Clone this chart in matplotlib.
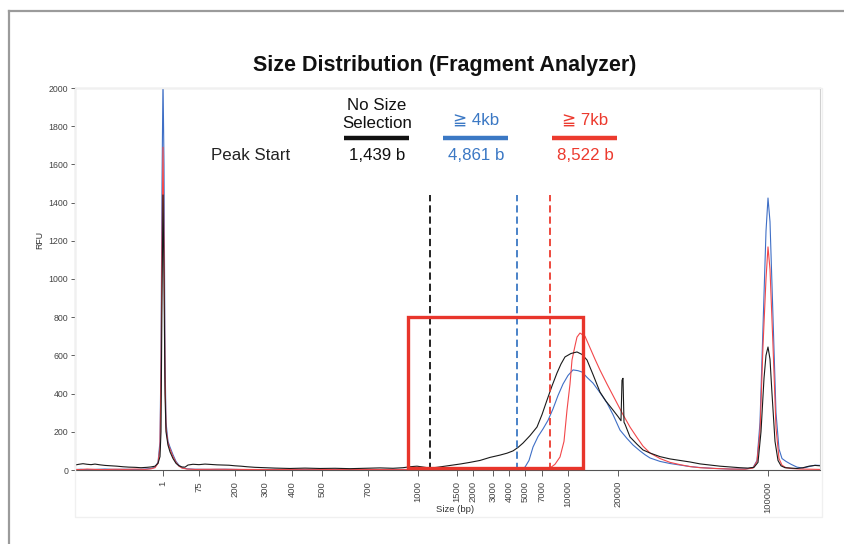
import matplotlib
matplotlib.use('Agg')
import matplotlib.pyplot as plt
from matplotlib.patches import Rectangle
from matplotlib.lines import Line2D
import numpy as np

plt.rcParams['font.family'] = ['Liberation Sans', 'DejaVu Sans']

# x axis is the migration position of the run (0..745), labelled with ladder sizes
tick_pos = [88, 124, 160, 190, 217, 247, 293, 343, 382, 398, 418, 434, 450, 467, 493, 543, 693]
tick_labels = ['1', '75', '200', '300', '400', '500', '700', '1000', '1500', '2000',
               '3000', '4000', '5000', '7000', '10000', '20000', '100000']

# traces: (position, RFU)
black = [(0, 26), (4, 30), (8, 33), (12, 30), (16, 28), (20, 31), (25, 27), (30, 24), (36, 22),
         (42, 20), (48, 17), (54, 15), (60, 14), (66, 12), (72, 14), (76, 16), (80, 20), (83, 35),
         (85, 70), (86, 200), (87, 900), (88, 1440), (89, 1000), (90, 400), (91, 200), (93, 130),
         (95, 95), (98, 60), (101, 35), (104, 22), (107, 16), (110, 15), (113, 26), (118, 30),
         (124, 28), (130, 31), (136, 29), (142, 27), (148, 26), (154, 25), (160, 22), (166, 20),
         (172, 17), (180, 14), (190, 12), (200, 10), (215, 8), (230, 10), (245, 8), (260, 9),
         (275, 7), (290, 9), (305, 11), (318, 9), (328, 12), (335, 17), (342, 20), (350, 14),
         (355, 10), (362, 14), (370, 20), (378, 26), (386, 32), (395, 40), (405, 50), (415, 66),
         (425, 78), (432, 88), (438, 100), (443, 118), (448, 141), (455, 180), (462, 225),
         (467, 290), (472, 366), (477, 440), (482, 508), (486, 555), (490, 592), (496, 610),
         (502, 618), (507, 605), (512, 576), (518, 500), (525, 408), (531, 360), (538, 314),
         (543, 280), (546, 258), (547, 470), (548, 480), (549, 250), (550, 240), (555, 173),
         (562, 135), (568, 105), (575, 89), (585, 70), (595, 58), (605, 50), (615, 42), (625, 32),
         (635, 26), (645, 20), (655, 16), (665, 12), (673, 10), (679, 14), (683, 40), (686, 200),
         (689, 480), (691, 600), (693, 644), (695, 580), (697, 400), (700, 150), (703, 50),
         (706, 22), (710, 12), (716, 10), (722, 8), (728, 12), (734, 20), (740, 24), (745, 22)]

blue = [(0, 2), (6, 4), (12, 2), (20, 3), (30, 5), (40, 3), (50, 4), (60, 2), (70, 5), (76, 8),
        (80, 15), (83, 40), (85, 150), (86, 600), (87, 1500), (88, 2050), (89, 1600), (90, 600),
        (91, 250), (93, 150), (95, 120), (98, 80), (101, 45), (104, 25), (107, 12), (112, 6),
        (120, 4), (135, 3), (150, 4), (170, 2), (200, 3), (230, 2), (260, 3), (290, 2), (320, 3),
        (350, 2), (380, 3), (410, 2), (440, 3), (446, 5), (450, 15), (454, 50), (458, 120),
        (463, 175), (468, 215), (473, 260), (478, 320), (483, 390), (488, 450), (493, 495),
        (498, 524), (503, 520), (507, 513), (512, 485), (518, 455), (525, 405), (532, 351),
        (538, 290), (545, 209), (552, 165), (558, 131), (565, 100), (570, 80), (575, 63),
        (585, 45), (595, 34), (605, 26), (615, 18), (625, 13), (640, 8), (655, 5), (670, 5),
        (678, 12), (682, 50), (685, 250), (688, 750), (691, 1250), (693, 1424), (695, 1300),
        (698, 800), (701, 300), (704, 110), (707, 60), (711, 45), (716, 30), (722, 15), (728, 10),
        (734, 18), (740, 25), (745, 24)]

red = [(0, 3), (6, 2), (12, 5), (20, 3), (30, 2), (40, 4), (50, 3), (60, 5), (70, 3), (76, 6),
       (80, 12), (83, 35), (85, 120), (86, 500), (87, 1200), (88, 1690), (89, 1200), (90, 500),
       (91, 220), (93, 140), (95, 110), (98, 70), (101, 40), (104, 20), (107, 10), (112, 5),
       (120, 3), (140, 4), (170, 3), (200, 2), (230, 4), (260, 2), (290, 3), (320, 2), (350, 4),
       (380, 2), (410, 3), (440, 2), (460, 3), (470, 4), (475, 10), (480, 30), (485, 68),
       (489, 150), (492, 314), (495, 450), (497, 576), (500, 650), (502, 696), (505, 717),
       (510, 700), (515, 640), (520, 580), (525, 523), (532, 450), (540, 370), (548, 290),
       (555, 225), (562, 170), (568, 125), (575, 89), (585, 60), (595, 40), (605, 28), (615, 18),
       (625, 12), (640, 8), (655, 5), (670, 4), (678, 10), (682, 45), (685, 200), (688, 650),
       (691, 1000), (693, 1168), (695, 1050), (698, 650), (701, 220), (704, 60), (707, 25),
       (711, 12), (716, 8), (725, 5), (735, 4), (745, 3)]

samples = [['No Size', 'Selection'], ['≧ 4kb'], ['≧ 7kb']]
peak_start = ['1,439 b', '4,861 b', '8,522 b']
peak_pos = [355, 442, 475]
trace_colors = ['#1a1a1a', '#3f6fc6', '#f2474a']
label_colors = ['#111111', '#3b78c4', '#ec3a2e']
box = (333, 508, 12, 801)  # x0, x1, y0, y1 of highlighted region

W, H = 845, 544
fig = plt.figure(figsize=(W / 100, H / 100), dpi=100)
fx = lambda px: px / W
fy = lambda py: 1 - py / H

# outer frame
fig.add_artist(Line2D([fx(9), fx(9)], [fy(11), 0], color='#9b9b9b', lw=1.6))
fig.add_artist(Line2D([fx(9), 1], [fy(11), fy(11)], color='#9b9b9b', lw=1.6))
fig.add_artist(Rectangle((fx(75), fy(517)), fx(822) - fx(75), fy(88) - fy(517),
                         fill=False, edgecolor='#f0f0f0', lw=1))

ax = fig.add_axes([fx(75), fy(470), fx(820) - fx(75), fy(88) - fy(470)])

for data, c in [(blue, trace_colors[1]), (red, trace_colors[2]), (black, trace_colors[0])]:
    arr = np.array(data)
    ax.plot(arr[:, 0], arr[:, 1], color=c, lw=0.8, clip_on=True)

for p, c in zip(peak_pos, label_colors):
    ax.plot([p, p], [0, 1440], color=c, lw=1.3, ls=(0, (4, 2.2)))

x0, x1, y0, y1 = box
ax.add_patch(Rectangle((x0, y0), x1 - x0, y1 - y0, fill=False, edgecolor='#e8352b',
                       lw=2.4, clip_on=False, zorder=5))

ax.set_xlim(0, 745)
ax.set_ylim(0, 2000)
ax.set_yticks(np.arange(0, 2001, 200))
ax.tick_params(axis='y', labelsize=6.3, colors='#444444', length=3, width=0.6, pad=2)
ax.set_xticks(tick_pos)
ax.set_xticklabels(tick_labels, rotation=90)
ax.tick_params(axis='x', labelsize=6.8, colors='#444444', length=4, width=0.6, pad=4)
for s in ['left', 'top', 'bottom']:
    ax.spines[s].set_color('#555555')
    ax.spines[s].set_linewidth(0.8)
ax.spines['right'].set_color('#d0d0d0')

fig.text(fx(40), fy(240), 'RFU', rotation=90, ha='center', va='center', fontsize=6.3, color='#333333')
fig.text(fx(455), fy(509), 'Size (bp)', ha='center', va='center', fontsize=6.8, color='#333333')

fig.text(fx(445), fy(65), 'Size Distribution (Fragment Analyzer)', ha='center', va='center',
         fontsize=15.5, fontweight='bold', color='#111111')

# header table
col_x = [377, 476, 585]
fig.text(fx(251), fy(156), 'Peak Start', ha='center', va='center', fontsize=12.2, color='#222222')
for i in range(3):
    lines = samples[i]
    if len(lines) == 2:
        ys = [106, 123]
    else:
        ys = [120]
    for t, yy in zip(lines, ys):
        fig.text(fx(col_x[i]), fy(yy), t, ha='center', va='center',
                 fontsize=12.2, color=label_colors[i])
    fig.add_artist(Line2D([fx(col_x[i] - 33), fx(col_x[i] + 32)], [fy(138), fy(138)],
                          color=label_colors[i], lw=3.2, solid_capstyle='butt'))
    fig.text(fx(col_x[i]), fy(156), peak_start[i], ha='center', va='center', fontsize=12.2,
             color=label_colors[i])

fig.savefig('out.png', dpi=100)
